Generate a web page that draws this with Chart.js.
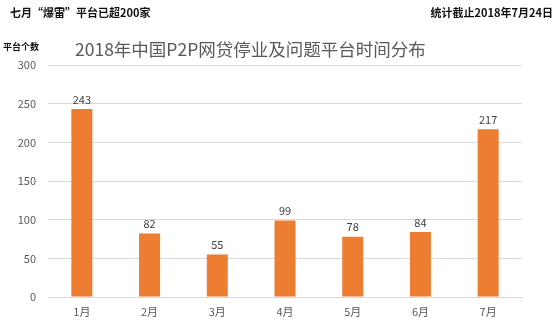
<!DOCTYPE html>
<html>
<head>
<meta charset="utf-8">
<script src="https://cdn.jsdelivr.net/npm/chart.js@4"></script>
<style>
  body { margin: 0; background: #fff; font-family: "Noto Sans CJK SC", sans-serif; }
  #wrap { position: relative; width: 560px; height: 322px; }
  canvas { position: absolute; left: 0; top: 0; }
  .txt { position: absolute; white-space: nowrap; }
  #note { left: 10px; top: 4px; font-size: 11px; font-weight: bold; color: #111; }
  #date { right: 7px; top: 4px; font-size: 11px; font-weight: bold; color: #111; }
  #ylab { left: 3px; top: 40px; font-size: 9px; font-weight: bold; color: #111; }
  #title { left: 75px; top: 36px; font-size: 17.5px; color: #595959; }
</style>
</head>
<body>
<div id="wrap">
  <canvas id="chart" width="560" height="322"></canvas>
  <div class="txt" id="note">七月“爆雷”平台已超200家</div>
  <div class="txt" id="date">统计截止2018年7月24日</div>
  <div class="txt" id="ylab">平台个数</div>
  <div class="txt" id="title">2018年中国P2P网贷停业及问题平台时间分布</div>
</div>
<script>
const months = ["1月", "2月", "3月", "4月", "5月", "6月", "7月"];
const platforms = [243, 82, 55, 99, 78, 84, 217];
const yTicks = [0, 50, 100, 150, 200, 250, 300];

// numbers over the bars
const barLabels = {
  id: "barLabels",
  afterDatasetsDraw(chart) {
    const ctx = chart.ctx;
    const meta = chart.getDatasetMeta(0);
    ctx.save();
    ctx.font = "11px 'Noto Sans CJK SC', sans-serif";
    ctx.fillStyle = "#404040";
    ctx.textAlign = "center";
    ctx.textBaseline = "bottom";
    meta.data.forEach((bar, i) => {
      ctx.fillText(platforms[i], bar.x, bar.y - 4);
    });
    ctx.restore();
  }
};

new Chart(document.getElementById("chart").getContext("2d"), {
  type: "bar",
  data: {
    labels: months,
    datasets: [{
      data: platforms,
      backgroundColor: "#ED7D31",
      categoryPercentage: 1,
      barPercentage: 0.31
    }]
  },
  options: {
    responsive: false,
    animation: false,
    layout: { padding: { top: 65, right: 38, left: 0, bottom: 0 } },
    plugins: { legend: { display: false }, tooltip: { enabled: false } },
    scales: {
      y: {
        min: 0,
        max: 300,
        afterBuildTicks(scale) { scale.ticks = yTicks.map(v => ({ value: v })); },
        afterFit(scale) { scale.width = 48; },
        grid: { color: "#d9d9d9", drawTicks: false },
        border: { display: false },
        ticks: { padding: 12, color: "#595959", font: { size: 11, family: "'Noto Sans CJK SC', sans-serif" } }
      },
      x: {
        afterFit(scale) { scale.height = 25; },
        grid: { display: false, drawTicks: false },
        border: { color: "#d9d9d9" },
        ticks: { padding: 8, color: "#595959", font: { size: 11, family: "'Noto Sans CJK SC', sans-serif" } }
      }
    }
  },
  plugins: [barLabels]
});
</script>
</body>
</html>
